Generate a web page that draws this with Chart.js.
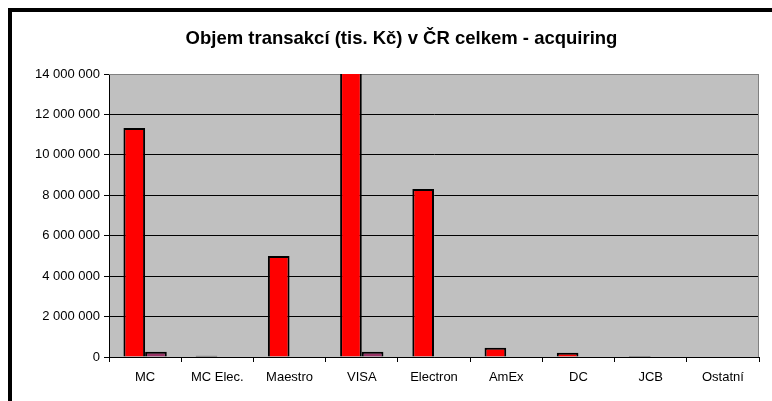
<!DOCTYPE html>
<html>
<head>
<meta charset="utf-8">
<script src="https://cdn.jsdelivr.net/npm/chart.js@4"></script>
<style>
  html, body { margin: 0; padding: 0; background: #fff; }
  #obal { position: relative; width: 772px; height: 401px; overflow: hidden; }
  #ramecek { position: absolute; left: 8px; top: 8px; width: 800px; height: 420px;
             border-top: 4px solid #000; border-left: 4px solid #000; pointer-events: none; }
  canvas { position: absolute; left: 0; top: 0; }
</style>
</head>
<body>
<div id="obal">
  <canvas id="graf" width="772" height="401"></canvas>
  <div id="ramecek"></div>
</div>
<script>
const kategorie = ['MC', 'MC Elec.', 'Maestro', 'VISA', 'Electron', 'AmEx', 'DC', 'JCB', 'Ostatní'];
const rada1 = [11330000, 65000, 5000000, 14200000, 8310000, 460000, 210000, 50000, 0];
const rada2 = [260000, 0, 0, 260000, 0, 0, 0, 0, 0];
const osaYMax = 14000000;
const osaYKrok = 2000000;

const pismo = "Arial, 'Liberation Sans', sans-serif";

const formatCisla = (v) => String(v).replace(/\B(?=(\d{3})+(?!\d))/g, ' ');

// u skoro nulovych sloupcu je videt jen cerny obrys
const barvaSloupce = (barva) => (c) => (c.raw > 0 && c.raw < 150000 ? '#000000' : barva);

// sede pozadi plochy grafu + sedy ramecek vpravo a nahore (pod sloupci)
const pozadiPlochy = {
    id: 'pozadiPlochy',
    afterLayout(chart) {
        // nadpis je vycentrovany na cely ramecek, ne na platno
        chart.titleBlock.left = 44;
    },
    beforeDraw(chart) {
        const { ctx, chartArea: a } = chart;
        ctx.save();
        ctx.fillStyle = '#C0C0C0';
        ctx.fillRect(a.left, a.top, a.right - a.left, a.bottom - a.top);
        ctx.restore();
    },
    beforeDatasetsDraw(chart) {
        const { ctx, chartArea: a } = chart;
        ctx.save();
        ctx.strokeStyle = '#808080';
        ctx.lineWidth = 1;
        ctx.beginPath();
        ctx.moveTo(a.left, a.top + 0.5);
        ctx.lineTo(a.right - 0.5, a.top + 0.5);
        ctx.lineTo(a.right - 0.5, a.bottom);
        ctx.stroke();
        ctx.restore();
    }
};

new Chart(document.getElementById('graf').getContext('2d'), {
    type: 'bar',
    data: {
        labels: kategorie,
        datasets: [
            {
                label: 'Řada 1',
                data: rada1,
                backgroundColor: barvaSloupce('#FF0000'),
                borderColor: '#000000',
                borderWidth: 2,
                categoryPercentage: 0.6,
                barPercentage: 1.0,
                clip: 0
            },
            {
                label: 'Řada 2',
                data: rada2,
                backgroundColor: barvaSloupce('#993366'),
                borderColor: '#000000',
                borderWidth: 2,
                categoryPercentage: 0.6,
                barPercentage: 1.0,
                clip: 0
            }
        ]
    },
    options: {
        responsive: false,
        animation: false,
        layout: { padding: { left: 0, right: 13, top: 0, bottom: 0 } },
        plugins: {
            legend: { display: false },
            tooltip: { enabled: false },
            title: {
                display: true,
                text: 'Objem transakcí (tis. Kč) v ČR celkem - acquiring',
                color: '#000',
                font: { family: pismo, size: 18.5, weight: 'bold' },
                padding: { top: 28, bottom: 23.8 }
            }
        },
        scales: {
            x: {
                grid: {
                    offset: true,
                    drawOnChartArea: false,
                    drawTicks: true,
                    tickLength: 5,
                    color: '#000'
                },
                border: { display: true, color: '#000', width: 1 },
                ticks: {
                    color: '#000',
                    font: { family: pismo, size: 13 },
                    padding: 8,
                    maxRotation: 0,
                    autoSkip: false
                },
                afterFit(scale) { scale.height = 44; }
            },
            y: {
                min: 0,
                max: osaYMax,
                grid: {
                    color: (c) => (c.tick && c.tick.value === osaYMax ? '#808080' : '#000'),
                    tickColor: '#000',
                    drawTicks: true,
                    tickLength: 5,
                    lineWidth: 1
                },
                border: { display: true, color: '#000', width: 1 },
                ticks: {
                    stepSize: osaYKrok,
                    color: '#000',
                    font: { family: pismo, size: 13 },
                    padding: 4,
                    callback: (v) => formatCisla(v)
                },
                afterFit(scale) { scale.width = 109; }
            }
        }
    },
    plugins: [pozadiPlochy]
});
</script>
</body>
</html>
